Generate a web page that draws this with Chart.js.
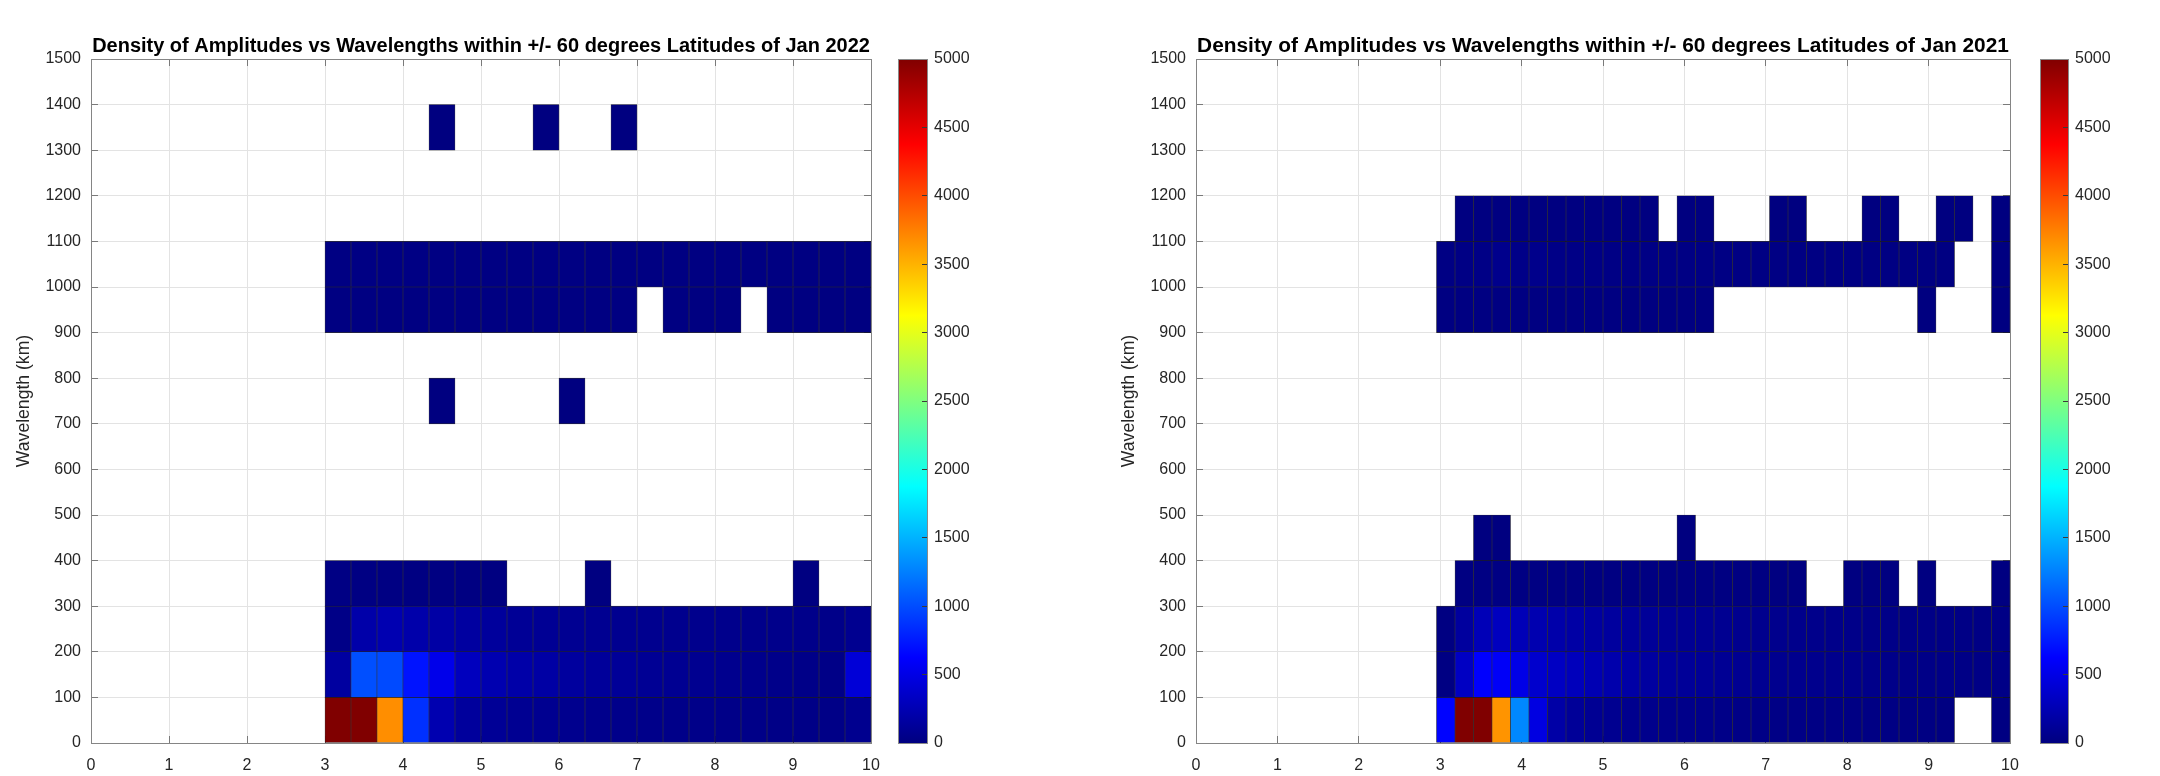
<!DOCTYPE html>
<html>
<head>
<meta charset="utf-8">
<script src="https://cdn.jsdelivr.net/npm/chart.js@4.4.1/dist/chart.umd.min.js"></script>
<style>
  html, body { margin: 0; padding: 0; background: #ffffff; }
  body { width: 2160px; height: 776px; position: relative; overflow: hidden; }
  canvas { position: absolute; top: 0; }
  #c2022 { left: 0; }
  #c2021 { left: 1105px; }
</style>
</head>
<body>
<canvas id="c2022" width="1080" height="776"></canvas>
<canvas id="c2021" width="1055" height="776"></canvas>
<script>
// ---- axis ticks -------------------------------------------------------
const amplitudeTicks = [0, 1, 2, 3, 4, 5, 6, 7, 8, 9, 10];
const wavelengthTicks = [0, 100, 200, 300, 400, 500, 600, 700, 800, 900, 1000, 1100, 1200, 1300, 1400, 1500];
const densityTicks = [0, 500, 1000, 1500, 2000, 2500, 3000, 3500, 4000, 4500, 5000];
const densityMax = 5000;

// ---- Jan 2022: amplitude bin edges and counts per 100 km wavelength band
const ampEdges2022 = [9/3, 10/3, 11/3, 12/3, 13/3, 14/3, 15/3, 16/3, 17/3, 18/3, 19/3,
  20/3, 21/3, 22/3, 23/3, 24/3, 25/3, 26/3, 27/3, 28/3, 29/3, 30/3];

const jan2022_0_100    = [5000, 5000, 3680, 860, 240, 140, 110, 90, 80, 70, 62, 56, 50, 48, 45, 42, 40, 38, 36, 36, 75];
const jan2022_100_200  = [160, 1010, 990, 720, 520, 305, 240, 200, 180, 150, 130, 120, 100, 90, 80, 70, 60, 52, 42, 35, 430];
const jan2022_200_300  = [35, 205, 245, 210, 185, 160, 140, 112, 100, 92, 86, 80, 75, 70, 66, 62, 58, 54, 50, 46, 80];
const jan2022_300_400  = [20, 18, 16, 14, 12, 10, 8, null, null, null, 6, null, null, null, null, null, null, null, 5, null, null];
const jan2022_700_800  = [null, null, null, null, 3, null, null, null, null, 3, null, null, null, null, null, null, null, null, null, null, null];
const jan2022_900_1000 = [14, 13, 13, 12, 12, 12, 11, 11, 11, 10, 10, 10, null, 10, 9, 9, null, 9, 8, 8, 8];
const jan2022_1000_1100 = [18, 24, 22, 20, 19, 18, 17, 16, 15, 15, 14, 14, 13, 13, 12, 12, 11, 11, 10, 10, 10];
const jan2022_1300_1400 = [null, null, null, null, 2, null, null, null, 2, null, null, 2, null, null, null, null, null, null, null, null, null];

// ---- Jan 2021: amplitude bin edges and counts per 100 km wavelength band
const ampEdges2021 = [65/22, 70/22, 75/22, 80/22, 85/22, 90/22, 95/22, 100/22, 105/22, 110/22, 115/22,
  120/22, 125/22, 130/22, 135/22, 140/22, 145/22, 150/22, 155/22, 160/22, 165/22, 170/22,
  175/22, 180/22, 185/22, 190/22, 195/22, 200/22, 205/22, 210/22, 215/22, 220/22];

const jan2021_0_100    = [640, 5000, 5000, 3650, 1290, 480, 190, 120, 95, 80, 70, 62, 56, 50, 46, 42, 38, 35, 32, 30, 28, 26, 24, 22, 20, 18, 16, 14, null, null, 12];
const jan2021_100_200  = [15, 330, 620, 590, 500, 380, 330, 290, 250, 220, 190, 160, 140, 120, 110, 100, 92, 85, 78, 72, 66, 60, 55, 50, 46, 42, 38, 35, 32, 30, 36];
const jan2021_200_300  = [10, 150, 270, 310, 270, 240, 210, 185, 165, 150, 135, 120, 108, 98, 90, 84, 78, 72, 66, 60, 55, 50, 46, 42, 40, 38, 35, 32, 30, 28, 30];
const jan2021_300_400  = [null, 14, 18, 20, 18, 17, 16, 15, 14, 14, 13, 13, 12, 12, 11, 11, 10, 10, 9, 9, null, null, 6, 6, 5, null, 5, null, null, null, 6];
const jan2021_400_500  = [null, null, 3, 3, null, null, null, null, null, null, null, null, null, 2, null, null, null, null, null, null, null, null, null, null, null, null, null, null, null, null, null];
const jan2021_900_1000 = [10, 11, 12, 12, 12, 11, 11, 10, 10, 10, 9, 9, 9, 8, 8, null, null, null, null, null, null, null, null, null, null, null, 4, null, null, null, 5];
const jan2021_1000_1100 = [22, 28, 34, 60, 40, 55, 36, 32, 30, 28, 27, 26, 25, 24, 23, 22, 21, 20, 20, 19, 18, 17, 17, 16, 15, 15, 14, 13, null, null, 8];
const jan2021_1100_1200 = [null, 6, 7, 7, 7, 6, 6, 6, 5, 5, 5, 5, null, 4, 4, null, null, null, 3, 3, null, null, null, 3, 3, null, null, 3, 3, null, 3];

const bands2022 = [
  [0, 100, jan2022_0_100], [100, 200, jan2022_100_200], [200, 300, jan2022_200_300],
  [300, 400, jan2022_300_400], [700, 800, jan2022_700_800], [900, 1000, jan2022_900_1000],
  [1000, 1100, jan2022_1000_1100], [1300, 1400, jan2022_1300_1400]
];
const bands2021 = [
  [0, 100, jan2021_0_100], [100, 200, jan2021_100_200], [200, 300, jan2021_200_300],
  [300, 400, jan2021_300_400], [400, 500, jan2021_400_500], [900, 1000, jan2021_900_1000],
  [1000, 1100, jan2021_1000_1100], [1100, 1200, jan2021_1100_1200]
];

// ---- jet colour map ----------------------------------------------------
function jet(t) {
  t = Math.max(0, Math.min(1, t));
  const c = v => Math.round(255 * Math.max(0, Math.min(1, v)));
  const r = Math.min(4 * t - 1.5, -4 * t + 4.5);
  const g = Math.min(4 * t - 0.5, -4 * t + 3.5);
  const b = Math.min(4 * t + 0.5, -4 * t + 2.5);
  return `rgb(${c(r)},${c(g)},${c(b)})`;
}
const jetStops = [[0, '#000080'], [0.125, '#0000ff'], [0.375, '#00ffff'], [0.625, '#ffff00'], [0.875, '#ff0000'], [1, '#800000']];

const FONT = '"Liberation Sans", Arial, Helvetica, sans-serif';
Chart.defaults.font.family = FONT;
Chart.defaults.color = '#262626';

// one floating-bar dataset per wavelength band; each bar is one histogram cell
function bandDatasets(bands, edges) {
  return bands.map(([lo, hi, counts]) => ({
    data: counts.map((v, j) => v == null ? null : { x: (edges[j] + edges[j + 1]) / 2, y: [lo, hi], v })
                .filter(p => p !== null),
    backgroundColor: ctx => ctx.raw ? jet(ctx.raw.v / densityMax) : '#000080',
    borderColor: 'rgba(15,15,15,0.85)',
    borderWidth: 0.6,
    borderSkipped: false,
    grouped: false,
    barPercentage: 1,
    categoryPercentage: 1
  }));
}

const align = v => Math.round(v - 0.5) + 0.5;
const plainLabel = v => String(v);

// frame, inward ticks, colour bar and title
const axesFrame = {
  id: 'axesFrame',
  beforeDatasetsDraw(chart) {
    const { ctx, chartArea: a, scales: { x, y } } = chart;
    const L = 7;
    ctx.save();
    ctx.strokeStyle = '#7a7a7a';
    ctx.lineWidth = 1;
    ctx.beginPath();
    x.ticks.forEach(t => {
      const p = align(x.getPixelForValue(t.value));
      ctx.moveTo(p, a.bottom); ctx.lineTo(p, a.bottom - L);
      ctx.moveTo(p, a.top); ctx.lineTo(p, a.top + L);
    });
    y.ticks.forEach(t => {
      const p = align(y.getPixelForValue(t.value));
      ctx.moveTo(a.left, p); ctx.lineTo(a.left + L, p);
      ctx.moveTo(a.right, p); ctx.lineTo(a.right - L, p);
    });
    ctx.stroke();
    ctx.restore();
  },
  afterDatasetsDraw(chart, args, opts) {
    const { ctx, chartArea: a, scales: { cb } } = chart;
    ctx.save();
    // axes box
    ctx.strokeStyle = '#858585';
    ctx.lineWidth = 1;
    ctx.strokeRect(align(a.left), align(a.top), align(a.right) - align(a.left), align(a.bottom) - align(a.top));

    // colour bar
    const x0 = a.right + opts.gap, w = opts.width;
    const yTop = cb.getPixelForValue(densityMax), yBot = cb.getPixelForValue(0);
    const grad = ctx.createLinearGradient(0, yBot, 0, yTop);
    jetStops.forEach(([s, col]) => grad.addColorStop(s, col));
    ctx.fillStyle = grad;
    ctx.fillRect(x0, yTop, w, yBot - yTop);
    ctx.strokeStyle = '#3a3a3a';
    ctx.beginPath();
    cb.ticks.forEach(t => {
      const p = align(cb.getPixelForValue(t.value));
      ctx.moveTo(x0 + w, p); ctx.lineTo(x0 + w - 5, p);
    });
    ctx.stroke();
    ctx.strokeStyle = '#8a8a8a';
    ctx.strokeRect(align(x0), align(yTop), Math.round(w), Math.round(yBot - yTop));
    ctx.restore();
  },
  afterDraw(chart, args, opts) {
    const { ctx, chartArea: a } = chart;
    ctx.save();
    let size = 20;
    ctx.font = `bold ${size}px ${FONT}`;
    const natural = ctx.measureText(opts.title).width;
    size = size * (a.right - a.left - 2) / natural;
    ctx.font = `bold ${size.toFixed(2)}px ${FONT}`;
    ctx.fillStyle = '#000000';
    ctx.textAlign = 'center';
    ctx.textBaseline = 'alphabetic';
    ctx.fillText(opts.title, (a.left + a.right) / 2, 52);
    ctx.restore();
  }
};

function setTicks(values) {
  return scale => { scale.ticks = values.map(v => ({ value: v })); };
}

function makeChart(id, title, edges, bands, frame) {
  return new Chart(document.getElementById(id), {
    type: 'bar',
    data: { datasets: bandDatasets(bands, edges) },
    options: {
      responsive: false,
      animation: false,
      events: [],
      layout: { padding: { top: 59, left: 0, right: 0, bottom: 0 } },
      plugins: {
        legend: { display: false },
        tooltip: { enabled: false },
        title: { display: false },
        axesFrame: { title, gap: frame.gap, width: frame.width }
      },
      scales: {
        x: {
          type: 'linear',
          min: 0, max: 10,
          offset: false,
          afterBuildTicks: setTicks(amplitudeTicks),
          afterFit: s => { s.height = 33; s.paddingLeft = 0; s.paddingRight = 0; },
          grid: { offset: false, color: '#e3e3e3', lineWidth: 1, drawTicks: false },
          border: { display: false },
          ticks: { padding: 13, font: { size: 16 }, color: '#262626', maxRotation: 0, autoSkip: false, callback: plainLabel }
        },
        y: {
          type: 'linear',
          min: 0, max: 1500,
          afterBuildTicks: setTicks(wavelengthTicks),
          afterFit: s => { s.width = 91; s.paddingTop = 0; s.paddingBottom = 0; },
          grid: { color: '#e3e3e3', lineWidth: 1, drawTicks: false },
          border: { display: false },
          ticks: { padding: 10, font: { size: 16 }, color: '#262626', autoSkip: false, callback: plainLabel },
          title: {
            display: true, text: 'Wavelength (km)',
            font: { size: 17.6 }, color: '#262626',
            padding: { top: 14, bottom: 0 }
          }
        },
        cb: {
          type: 'linear',
          position: 'right',
          min: 0, max: densityMax,
          afterBuildTicks: setTicks(densityTicks),
          afterFit: s => { s.width = frame.axisWidth; s.paddingTop = 0; s.paddingBottom = 0; },
          grid: { display: false, drawTicks: false },
          border: { display: false },
          ticks: { padding: frame.labelPad, font: { size: 16 }, color: '#262626', autoSkip: false, callback: plainLabel }
        }
      }
    },
    plugins: [axesFrame]
  });
}

makeChart('c2022', 'Density of Amplitudes vs Wavelengths within +/- 60 degrees Latitudes of Jan 2022',
  ampEdges2022, bands2022, { gap: 27, width: 29, axisWidth: 209, labelPad: 63 });
makeChart('c2021', 'Density of Amplitudes vs Wavelengths within +/- 60 degrees Latitudes of Jan 2021',
  ampEdges2021, bands2021, { gap: 30, width: 28, axisWidth: 150, labelPad: 65 });
</script>
</body>
</html>
